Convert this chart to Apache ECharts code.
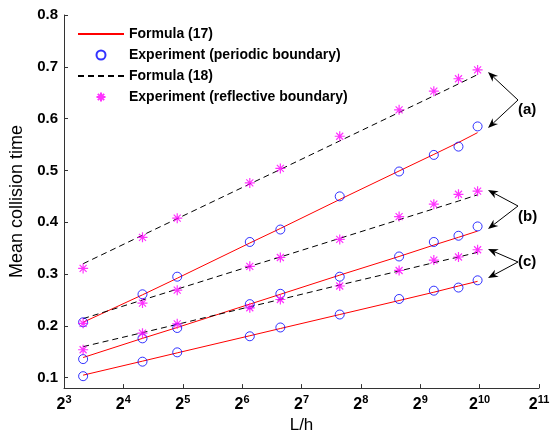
<!DOCTYPE html>
<html><head><meta charset="utf-8">
<script src="https://cdn.jsdelivr.net/npm/echarts@6/dist/echarts.min.js"></script>
<style>html,body{margin:0;padding:0;background:#fff}#c{width:553px;height:439px}</style>
</head><body><div id="c"></div>
<script>
// ---- data ----
const xLH = [10, 20, 30, 70, 100, 200, 400, 600, 800, 1000];
const xTicks = [8, 16, 32, 64, 128, 256, 512, 1024, 2048];
const yTicks = [0.1, 0.2, 0.3, 0.4, 0.5, 0.6, 0.7, 0.8];

// (a)
const periodicA   = [0.207, 0.261, 0.295, 0.362, 0.386, 0.450, 0.498, 0.530, 0.546, 0.585];
const formula17A  = [0.207, 0.260, 0.292, 0.360, 0.388, 0.444, 0.499, 0.531, 0.554, 0.573];
const reflectA    = [0.311, 0.371, 0.408, 0.476, 0.504, 0.566, 0.617, 0.653, 0.677, 0.694];
const formula18A  = [0.320, 0.375, 0.407, 0.474, 0.502, 0.557, 0.612, 0.644, 0.667, 0.685];
// (b)
const periodicB   = [0.136, 0.176, 0.196, 0.242, 0.262, 0.295, 0.334, 0.362, 0.374, 0.392];
const formula17B  = [0.139, 0.176, 0.197, 0.242, 0.261, 0.298, 0.334, 0.356, 0.371, 0.383];
const reflectB    = [0.205, 0.244, 0.269, 0.315, 0.332, 0.367, 0.411, 0.435, 0.454, 0.460];
const formula18B  = [0.214, 0.250, 0.271, 0.315, 0.333, 0.369, 0.405, 0.426, 0.441, 0.453];
// (c)
const periodicC   = [0.103, 0.131, 0.149, 0.180, 0.197, 0.222, 0.252, 0.268, 0.274, 0.288];
const formula17C  = [0.105, 0.132, 0.148, 0.181, 0.195, 0.222, 0.249, 0.265, 0.277, 0.286];
const reflectC    = [0.154, 0.186, 0.204, 0.235, 0.251, 0.277, 0.307, 0.327, 0.333, 0.347];
const formula18C  = [0.160, 0.187, 0.203, 0.237, 0.251, 0.279, 0.306, 0.322, 0.333, 0.342];

const groupLabels = ['(a)', '(b)', '(c)'];
const names = ['Formula (17)', 'Experiment (periodic boundary)', 'Formula (18)', 'Experiment (reflective boundary)'];

// ---- build ----
const FONT = '"Liberation Sans", Arial, Helvetica, sans-serif';
const pairs = ys => xLH.map((x, i) => [x, ys[i]]);
const STAR = 'path://M0,-5L0,5M-5,0L5,0M-3.5,-3.5L3.5,3.5M-3.5,3.5L3.5,-3.5';

function lineSeries(name, ys, dashed) {
  return {
    name, type: 'line', data: pairs(ys), symbol: 'none', showSymbol: false, silent: true,
    lineStyle: dashed ? { color: '#000', width: 1, type: [6, 4] } : { color: '#ff0000', width: 1 },
    itemStyle: { color: dashed ? '#000' : '#ff0000' }, z: 2
  };
}
function circleSeries(name, ys) {
  return {
    name, type: 'scatter', data: pairs(ys), symbol: 'circle', symbolSize: 9,
    itemStyle: { color: 'rgba(0,0,0,0)', borderColor: '#0000ff', borderWidth: 1 }, z: 3
  };
}
function starSeries(name, ys) {
  return {
    name, type: 'scatter', data: pairs(ys), symbol: STAR, symbolSize: 10,
    itemStyle: { color: 'rgba(0,0,0,0)', borderColor: '#ff00ff', borderWidth: 1.2 }, z: 3
  };
}

const series = [
  lineSeries(names[0], formula17A, false),
  circleSeries(names[1], periodicA),
  lineSeries(names[2], formula18A, true),
  starSeries(names[3], reflectA),
  lineSeries(names[0], formula17B, false),
  circleSeries(names[1], periodicB),
  lineSeries(names[2], formula18B, true),
  starSeries(names[3], reflectB),
  lineSeries(names[0], formula17C, false),
  circleSeries(names[1], periodicC),
  lineSeries(names[2], formula18C, true),
  starSeries(names[3], reflectC)
];

// annotation arrows (pixel positions of annotation only)
function arrow(bx, by, hx, hy) {
  const dx = hx - bx, dy = hy - by, L = Math.hypot(dx, dy);
  const ux = dx / L, uy = dy / L, px = -uy, py = ux;
  const len = 10, hw = 4, notch = 3;
  const baseX = hx - ux * len, baseY = hy - uy * len;
  const nX = hx - ux * (len - notch), nY = hy - uy * (len - notch);
  return [
    { type: 'line', shape: { x1: bx, y1: by, x2: nX, y2: nY }, style: { stroke: '#000', lineWidth: 1 } },
    { type: 'polygon', shape: { points: [[hx, hy], [baseX + px * hw, baseY + py * hw], [nX, nY], [baseX - px * hw, baseY - py * hw]] }, style: { fill: '#000' } }
  ];
}
const graphics = [
  ...arrow(518, 100, 488, 72), ...arrow(518, 100, 488, 128),
  ...arrow(518, 206, 488, 190), ...arrow(518, 206, 488, 229),
  ...arrow(518, 262, 488, 249), ...arrow(518, 262, 488, 278),
  { type: 'text', left: 518, top: 102, style: { text: groupLabels[0], font: 'bold 15px ' + FONT, fill: '#000' } },
  { type: 'text', left: 518, top: 209, style: { text: groupLabels[1], font: 'bold 15px ' + FONT, fill: '#000' } },
  { type: 'text', left: 518, top: 254, style: { text: groupLabels[2], font: 'bold 15px ' + FONT, fill: '#000' } }
];

const hideSym = { color: 'rgba(0,0,0,0)', borderColor: 'rgba(0,0,0,0)', borderWidth: 0, opacity: 0 };
const chart = echarts.init(document.getElementById('c'), null, { renderer: 'canvas' });
chart.setOption({
  animation: false,
  backgroundColor: '#fff',
  grid: { left: 62, right: 14, top: 15, bottom: 48, containLabel: false },
  legend: {
    data: [
      { name: names[0], itemStyle: hideSym },
      { name: names[1] },
      { name: names[2], itemStyle: hideSym },
      { name: names[3] }
    ],
    orient: 'vertical', left: 77, top: 27, padding: 0,
    itemWidth: 46, itemHeight: 9, itemGap: 7,
    textStyle: { fontFamily: FONT, fontWeight: 'bold', fontSize: 14, color: '#000' },
    selectedMode: false
  },
  xAxis: {
    type: 'log', logBase: 2, min: 8, max: 2048, interval: 1,
    name: 'L/h', nameLocation: 'middle', nameGap: 24,
    nameTextStyle: { fontFamily: FONT, fontSize: 17, color: '#000' },
    axisLine: { lineStyle: { color: '#333', width: 1 } },
    axisTick: { inside: true, length: 4, lineStyle: { color: '#333' } },
    splitLine: { show: false },
    axisLabel: {
      margin: 6, color: '#000',
      formatter: v => '{b|2}{s|' + Math.round(Math.log2(v)) + '}',
      rich: {
        b: { fontFamily: FONT, fontWeight: 'bold', fontSize: 16, color: '#000' },
        s: { fontFamily: FONT, fontWeight: 'bold', fontSize: 11, color: '#000', padding: [0, 0, 9, 0] }
      }
    }
  },
  yAxis: {
    type: 'value', min: 0.08, max: 0.8,
    name: 'Mean collision time', nameLocation: 'middle', nameGap: 38,
    nameTextStyle: { fontFamily: FONT, fontSize: 18, color: '#000' },
    axisLine: { show: true, lineStyle: { color: '#333', width: 1 } },
    axisTick: { show: true, inside: true, length: 4, customValues: yTicks, lineStyle: { color: '#333' } },
    splitLine: { show: false },
    axisLabel: {
      customValues: yTicks, margin: 6, color: '#000',
      fontFamily: FONT, fontWeight: 'bold', fontSize: 15,
      formatter: v => v.toFixed(1)
    }
  },
  series,
  graphic: graphics
});
</script></body></html>
